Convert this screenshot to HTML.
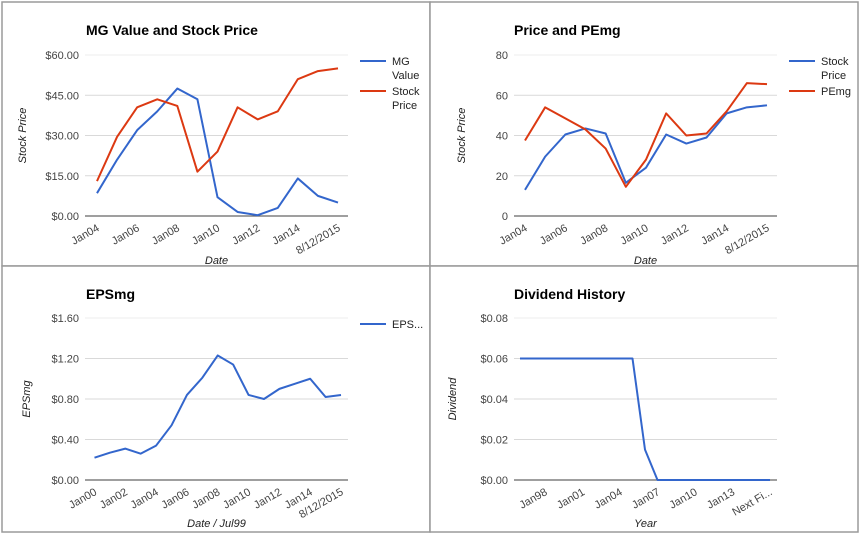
<!DOCTYPE html>
<html><head><meta charset="utf-8"><style>
html,body{margin:0;padding:0;background:#fff;}
svg{display:block;font-family:"Liberation Sans",Arial,sans-serif;}
.tick{font-size:11px;fill:#444;}
.ttl{font-size:14px;font-weight:bold;fill:#000;}
.axt{font-size:11px;fill:#222;font-style:italic;}
.leg{font-size:11px;fill:#222;}
</style></head><body>
<svg id="c" width="862" height="535" viewBox="0 0 862 535" xmlns="http://www.w3.org/2000/svg">
<g>
<rect x="0" y="0" width="862" height="535" fill="#fff"/>
<rect x="2" y="2" width="428" height="264" fill="#fff" stroke="#9a9a9a" stroke-width="1.5"/>
<rect x="430" y="2" width="428" height="264" fill="#fff" stroke="#9a9a9a" stroke-width="1.5"/>
<rect x="2" y="266" width="428" height="266" fill="#fff" stroke="#9a9a9a" stroke-width="1.5"/>
<rect x="430" y="266" width="428" height="266" fill="#fff" stroke="#9a9a9a" stroke-width="1.5"/>
</g>
</svg>
<script>
// ---- Chart 1 data ----
const c1Cats=["Jan04","Jan05","Jan06","Jan07","Jan08","Jan09","Jan10","Jan11","Jan12","Jan13","Jan14","Jan15","8/12/2015"];
const c1Mg=[8.5,21,32,39,47.5,43.5,7,1.5,0.3,3,14,7.5,5];
const c1Stock=[13,29.5,40.5,43.5,41,16.5,24,40.5,36,39,51,54,55];
const c1Ticks=["$0.00","$15.00","$30.00","$45.00","$60.00"];
const c1TickVals=[0,15,30,45,60];
// ---- Chart 2 data ----
const c2Stock=[13,29.5,40.5,43.5,41,16.5,24,40.5,36,39,51,54,55];
const c2Pe=[37.5,54,48.5,43,33.5,14.5,28,51,40,41,52,66,65.5];
const c2Ticks=["0","20","40","60","80"];
const c2TickVals=[0,20,40,60,80];
// ---- Chart 3 data ----
const c3Cats=["Jan00","Jan01","Jan02","Jan03","Jan04","Jan05","Jan06","Jan07","Jan08","Jan09","Jan10","Jan11","Jan12","Jan13","Jan14","Jan15","8/12/2015"];
const c3Eps=[0.22,0.27,0.31,0.26,0.34,0.54,0.84,1.01,1.23,1.14,0.84,0.80,0.90,0.95,1.00,0.82,0.84];
const c3Ticks=["$0.00","$0.40","$0.80","$1.20","$1.60"];
const c3TickVals=[0,0.4,0.8,1.2,1.6];
// ---- Chart 4 data ----
const c4Cats=["Jan96","Jan97","Jan98","Jan99","Jan00","Jan01","Jan02","Jan03","Jan04","Jan05","Jan06","Jan07","Jan08","Jan09","Jan10","Jan11","Jan12","Jan13","Jan14","Jan15","Next Fi..."];
const c4Div=[0.06,0.06,0.06,0.06,0.06,0.06,0.06,0.06,0.06,0.06,0.015,0,0,0,0,0,0,0,0,0,0];
const c4Ticks=["$0.00","$0.02","$0.04","$0.06","$0.08"];
const c4TickVals=[0,0.02,0.04,0.06,0.08];

const NS="http://www.w3.org/2000/svg";
const svg=document.getElementById('c');
function mk(tag,attrs,parent,txt){const e=document.createElementNS(NS,tag);for(const k in attrs)e.setAttribute(k,attrs[k]);if(txt!==undefined)e.textContent=txt;(parent||svg).appendChild(e);return e;}

function chart(cfg){
  const g=mk('g',{});
  
  
  const ymax=cfg.tickVals[cfg.tickVals.length-1];
  const y=v=>cfg.y0-(v/ymax)*(cfg.y0-cfg.y1);
  const n=cfg.n;
  const x=i=>cfg.px0+i*(cfg.px1-cfg.px0)/(n-1);
  const t=mk('text',{x:cfg.tx,y:cfg.ty,class:'ttl'},g,cfg.title);
  
  
  cfg.tickVals.forEach((v,i)=>{
    if(v!==0){const l=mk('line',{x1:cfg.ax0,x2:cfg.ax1,y1:y(v),y2:y(v),stroke:i===cfg.tickVals.length-1?'#eee':'#d9d9d9','stroke-width':1},g);
    
    }
    const tl=mk('text',{x:cfg.ax0-6,y:y(v)+4,class:'tick','text-anchor':'end'},g,cfg.ticks[i]);
    
    
  });
  const base=mk('line',{x1:cfg.ax0,x2:cfg.ax1,y1:y(0),y2:y(0),stroke:'#666','stroke-width':1.3},g);
  
  
  cfg.xlabels.forEach(([i,lab])=>{
    const xx=x(i)+3, yy=y(0)+14;
    const tl=mk('text',{x:xx,y:yy,class:'tick','text-anchor':'end',transform:`rotate(-30 ${xx} ${yy})`},g,lab);
    
    
  });
  const yt=mk('text',{x:0,y:0,class:'axt','text-anchor':'middle',transform:`translate(${cfg.ytx},${(cfg.y0+cfg.y1)/2}) rotate(-90)`},g,cfg.ytitle);
  
  
  const xt=mk('text',{x:(cfg.ax0+cfg.ax1)/2,y:cfg.xty,class:'axt','text-anchor':'middle'},g,cfg.xtitle);
  
  
  cfg.series.forEach((s,si)=>{
    const p=mk('polyline',{points:s.data.map((v,i)=>x(i)+','+y(v)).join(' '),fill:'none',stroke:s.color,'stroke-width':2,'stroke-linejoin':'round'},g);
    
    
    if(s.leg){
      const lg=mk('g',{},g);
      
      
      const ly=s.legY;
      mk('line',{x1:cfg.lx,x2:cfg.lx+26,y1:ly,y2:ly,stroke:s.color,'stroke-width':2},lg);
      s.leg.forEach((ln,li)=>mk('text',{x:cfg.lx+32,y:ly+4+li*14,class:'leg'},lg,ln));
    }
  });
}
chart({name:'mg-value-stock-price-chart',title:'MG Value and Stock Price',tx:86,ty:35,n:13,px0:97,px1:338,ax0:85,ax1:348,y0:216,y1:55,
  tickVals:c1TickVals,ticks:c1Ticks,xlabels:[[0,'Jan04'],[2,'Jan06'],[4,'Jan08'],[6,'Jan10'],[8,'Jan12'],[10,'Jan14'],[12,'8/12/2015']],
  ytitle:'Stock Price',ytx:26,xtitle:'Date',xty:264,lx:360,
  series:[{key:'mg-value',data:c1Mg,color:'#3366cc',leg:['MG','Value'],legY:61},{key:'stock-price',data:c1Stock,color:'#dc3912',leg:['Stock','Price'],legY:91}]});
chart({name:'price-pemg-chart',title:'Price and PEmg',tx:514,ty:35,n:13,px0:525,px1:767,ax0:514,ax1:777,y0:216,y1:55,
  tickVals:c2TickVals,ticks:c2Ticks,xlabels:[[0,'Jan04'],[2,'Jan06'],[4,'Jan08'],[6,'Jan10'],[8,'Jan12'],[10,'Jan14'],[12,'8/12/2015']],
  ytitle:'Stock Price',ytx:465,xtitle:'Date',xty:264,lx:789,
  series:[{key:'stock-price',data:c2Stock,color:'#3366cc',leg:['Stock','Price'],legY:61},{key:'pemg',data:c2Pe,color:'#dc3912',leg:['PEmg'],legY:91}]});
chart({name:'epsmg-chart',title:'EPSmg',tx:86,ty:299,n:17,px0:94.5,px1:341,ax0:85,ax1:348,y0:480,y1:318,
  tickVals:c3TickVals,ticks:c3Ticks,xlabels:[[0,'Jan00'],[2,'Jan02'],[4,'Jan04'],[6,'Jan06'],[8,'Jan08'],[10,'Jan10'],[12,'Jan12'],[14,'Jan14'],[16,'8/12/2015']],
  ytitle:'EPSmg',ytx:30,xtitle:'Date / Jul99',xty:527,lx:360,
  series:[{key:'epsmg',data:c3Eps,color:'#3366cc',leg:['EPS...'],legY:324}]});
chart({name:'dividend-history-chart',title:'Dividend History',tx:514,ty:299,n:21,px0:520,px1:770,ax0:514,ax1:777,y0:480,y1:318,
  tickVals:c4TickVals,ticks:c4Ticks,xlabels:[[2,'Jan98'],[5,'Jan01'],[8,'Jan04'],[11,'Jan07'],[14,'Jan10'],[17,'Jan13'],[20,'Next Fi...']],
  ytitle:'Dividend',ytx:456,xtitle:'Year',xty:527,lx:789,
  series:[{key:'dividend',data:c4Div,color:'#3366cc'}]});
</script>
</body></html>
